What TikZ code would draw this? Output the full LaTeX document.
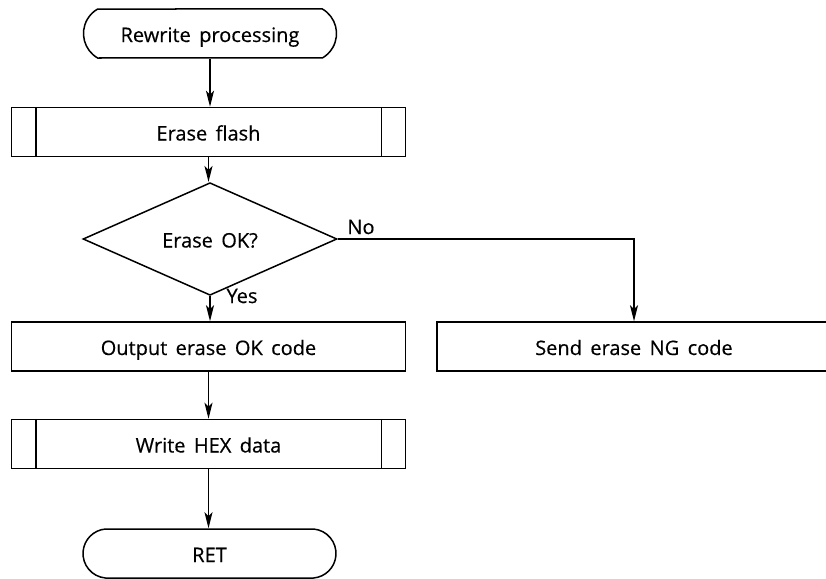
\documentclass[tikz,border=0pt]{standalone}
\usepackage{fontspec}
\setmainfont[FakeBold=0.4]{Open Sans}
\usetikzlibrary{arrows.meta,shapes.geometric,shapes.misc}
\newcommand\chartfont{\fontsize{20}{23}\selectfont\spaceskip=0.42em plus 0pt minus 0pt\relax}

\begin{document}
\begin{tikzpicture}[x=1pt,y=-1pt,line width=1.5pt,
  every node/.style={font=\chartfont},
  shapetext/.style={text height=17pt,text depth=0pt},
  terminal/.style={draw,shapetext,rounded rectangle,rounded rectangle arc length=#1,
    minimum width=253pt,minimum height=49pt,inner sep=0pt},
  procbox/.style={draw,shapetext,rectangle,minimum width=394pt,minimum height=49pt,inner sep=0pt},
  decision/.style={draw,shapetext,diamond,minimum width=254pt,minimum height=65pt,inner sep=0pt},
  lbl/.style={inner sep=0pt},
  arr/.style={-{Stealth[length=16pt,width=8pt,inset=4pt]}}]
  \useasboundingbox (0,0) rectangle (826,578);

  % main column
  \node[terminal=120] (start) at (210,33.5) {Rewrite processing};
  \node[procbox] (flash) at (208.5,132) {Erase flash};
  \node[decision] (dec) at (210,239) {Erase OK?};
  \node[procbox] (okout) at (208.5,346.5) {Output erase OK code};
  \node[procbox] (hex) at (208.5,444) {Write HEX data};
  \node[terminal=170] (ret) at (209.5,553.5) {RET};

  % side branch
  \node[procbox] (ngout) at (634,346.5) {Send erase NG code};

  % predefined-process side bars
  \foreach \p in {flash,hex}{
    \draw ([xshift=25pt]\p.north west) -- ([xshift=25pt]\p.south west);
    \draw ([xshift=-25pt]\p.north east) -- ([xshift=-25pt]\p.south east);
  }

  % connectors
  \draw[arr] (start.south) -- (start.south |- flash.north);
  \draw[arr] (flash.south) -- (flash.south |- dec.north);
  \draw[arr] (dec.south) -- (dec.south |- okout.north);
  \draw[arr] (okout.south) -- (okout.south |- hex.north);
  \draw[arr] (hex.south) -- (hex.south |- ret.north);
  \draw[arr] (dec.east) -| (ngout.north);

  % branch labels
  \node[lbl] (no) at (361,227) {No};
  \node[lbl] (yes) at (242,296) {Yes};
\end{tikzpicture}
\end{document}
